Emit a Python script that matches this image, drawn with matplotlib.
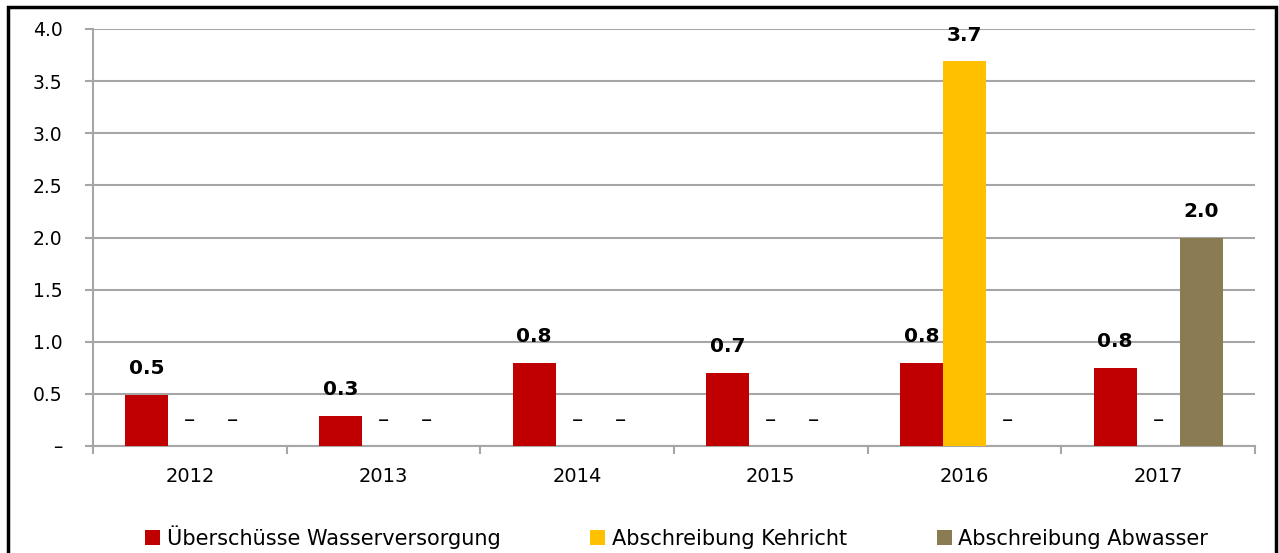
import numpy as np
import matplotlib.pyplot as plt
from matplotlib.patches import Rectangle

years = ["2012", "2013", "2014", "2015", "2016", "2017"]
wasser = [0.49, 0.29, 0.80, 0.70, 0.80, 0.75]
kehricht = [0, 0, 0, 0, 3.69, 0]
abwasser = [0, 0, 0, 0, 0, 2.0]
series_names = ["Überschüsse Wasserversorgung", "Abschreibung Kehricht", "Abschreibung Abwasser"]
colors = ["#C00000", "#FFC000", "#8B7B52"]
ytick_vals = [0, 0.5, 1.0, 1.5, 2.0, 2.5, 3.0, 3.5, 4.0]
ytick_labels = ["–", "0.5", "1.0", "1.5", "2.0", "2.5", "3.0", "3.5", "4.0"]

plt.rcParams["font.family"] = ["DejaVu Sans"]

fig = plt.figure(figsize=(12.79, 5.53), dpi=100)
ax = fig.add_axes([93 / 1279, 1 - 446 / 553, (1255 - 93) / 1279, (446 - 29) / 553])

x = np.arange(len(years))
w = 0.222
for i, vals in enumerate([wasser, kehricht, abwasser]):
    pos = x + (i - 1) * w
    ax.bar(pos, vals, width=w, color=colors[i], label=series_names[i], zorder=3)
    for px, v in zip(pos, vals):
        if v == 0:
            ax.annotate("–", (px, 0), xytext=(0, 19), textcoords="offset points",
                        ha="center", va="center", fontsize=16, color="black")
        else:
            ax.annotate(f"{v:.1f}", (px, v), xytext=(0, 12), textcoords="offset points",
                        ha="center", va="bottom", fontsize=14.5, fontweight="bold", color="black")

ax.set_xlim(-0.5, len(years) - 0.5)
ax.set_ylim(0, 4.0)
ax.set_yticks(ytick_vals)
ax.set_yticklabels(ytick_labels, fontsize=13.5)
ax.yaxis.grid(True, color="#a6a6a6", linewidth=1.5, zorder=0)
ax.tick_params(axis="y", length=6, color="#a6a6a6", width=1.5, pad=16)

ax.set_xticks(x)
ax.set_xticklabels(years, fontsize=14)
ax.set_xticks(np.arange(-0.5, len(years)), minor=True)
ax.tick_params(axis="x", which="major", length=0, pad=15)
ax.tick_params(axis="x", which="minor", length=6, color="#a6a6a6", width=1.5)

for s in ["top", "right"]:
    ax.spines[s].set_visible(False)
for s in ["left", "bottom"]:
    ax.spines[s].set_color("#a6a6a6")
    ax.spines[s].set_linewidth(1.5)

fig.legend(loc="lower center", bbox_to_anchor=(0.529, -0.026), ncol=3, frameon=False,
           fontsize=15, handlelength=0.72, handleheight=0.72, handletextpad=0.33,
           columnspacing=4.3)

fig.patches.append(Rectangle((8 / 1279, -0.1), 1268 / 1279, 1 - 7 / 553 + 0.1,
                             transform=fig.transFigure, fill=False, edgecolor="black",
                             linewidth=2.5, clip_on=False))

fig.savefig("out.png", dpi=100)
